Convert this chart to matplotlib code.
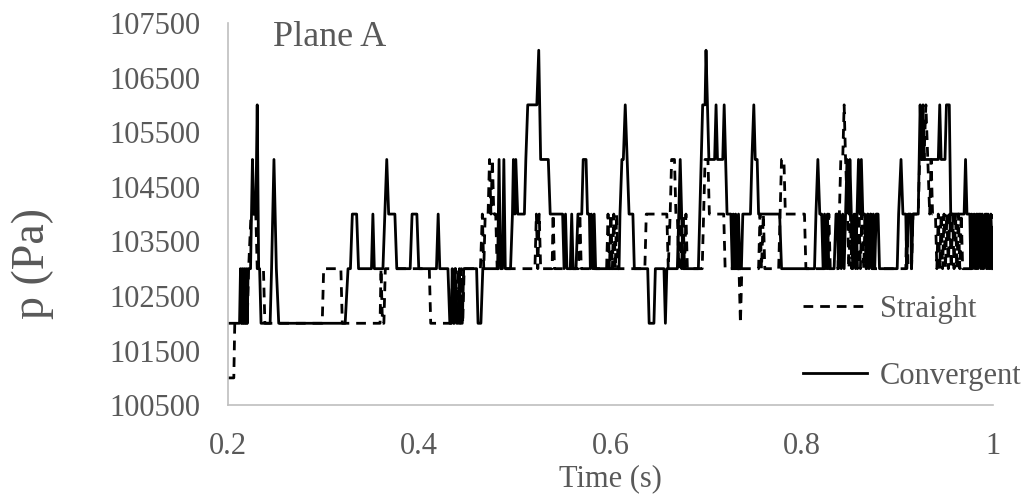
import matplotlib
matplotlib.use("Agg")
import matplotlib.pyplot as plt

# Convergent (solid) - time (s) / pressure (Pa)
conv_t = [0.200, 0.212, 0.213, 0.214, 0.215, 0.216, 0.217, 0.218, 0.219, 0.220,
          0.221, 0.2235, 0.2255, 0.2270, 0.2290, 0.2305, 0.2320, 0.2330, 0.2345, 0.2440,
          0.2455, 0.2480, 0.2505, 0.2530, 0.3225, 0.3255, 0.3280, 0.3300, 0.3345, 0.3365,
          0.3500, 0.3515, 0.3530, 0.3620, 0.3640, 0.3660, 0.3680, 0.3745, 0.3765, 0.3905,
          0.3925, 0.3975, 0.3995, 0.4180, 0.4198, 0.4215, 0.4300, 0.4320, 0.4335, 0.4345,
          0.4360, 0.4375, 0.4390, 0.4410, 0.4420, 0.4430, 0.4450, 0.4465, 0.4600, 0.4615,
          0.4645, 0.4665, 0.4820, 0.4835, 0.4850, 0.4870, 0.4885, 0.4900, 0.4955, 0.4975,
          0.4985, 0.5000, 0.5010, 0.5030, 0.5100, 0.5115, 0.5135, 0.5230, 0.5250, 0.5270,
          0.5350, 0.5370, 0.5500, 0.5515, 0.5530, 0.5545, 0.5580, 0.5595, 0.5610, 0.5640,
          0.5660, 0.5700, 0.5715, 0.5745, 0.5760, 0.5780, 0.5790, 0.5800, 0.5815, 0.5830,
          0.5845, 0.6090, 0.6100, 0.6120, 0.6135, 0.6155, 0.6175, 0.6195, 0.6235, 0.6250,
          0.6390, 0.6405, 0.6455, 0.6470, 0.6560, 0.6575, 0.6590, 0.6700, 0.6715, 0.6730,
          0.6745, 0.6760, 0.6920, 0.6935, 0.6950, 0.6965, 0.6990, 0.7000, 0.7015, 0.7030,
          0.7090, 0.7105, 0.7120, 0.7175, 0.7190, 0.7205, 0.7220, 0.7260, 0.7275, 0.7285,
          0.7300, 0.7310, 0.7325, 0.7340, 0.7355, 0.7370, 0.7385, 0.7465, 0.7480, 0.7500,
          0.7515, 0.7535, 0.7550, 0.7770, 0.7790, 0.8135, 0.8150, 0.8170, 0.8190, 0.8210,
          0.8225, 0.8240, 0.8255, 0.8270, 0.8285, 0.8340, 0.8360, 0.8375, 0.8385, 0.8400,
          0.8415, 0.8430, 0.8445, 0.8460, 0.8475, 0.8495, 0.8505, 0.8520, 0.8535, 0.8550,
          0.8565, 0.8580, 0.8595, 0.8610, 0.8625, 0.8640, 0.8660, 0.8675, 0.8690, 0.8705,
          0.8720, 0.8735, 0.8750, 0.8765, 0.8780, 0.8800, 0.8815, 0.9000, 0.9015, 0.9040,
          0.9060, 0.9090, 0.9100, 0.9115, 0.9140, 0.9150, 0.9165, 0.9220, 0.9240, 0.9255,
          0.9270, 0.9285, 0.9430, 0.9445, 0.9460, 0.9500, 0.9515, 0.9545, 0.9560, 0.9700,
          0.9715, 0.9730, 0.9760, 0.9770, 0.9780, 0.9790, 0.9805, 0.9815, 0.9830, 0.9845,
          0.9860, 0.9875, 0.9890, 0.9905, 0.9920, 0.9935, 0.9950, 0.9965, 0.9980, 1.0000]
conv_p = [102000, 102000, 103000, 102000, 103000, 102000, 103000, 102000, 103000, 102000,
          103000, 103000, 105000, 104000, 104000, 106000, 103000, 103000, 102000, 102000,
          103000, 105000, 103000, 102000, 102000, 103000, 103000, 104000, 104000, 103000,
          103000, 104000, 103000, 103000, 104000, 105000, 104000, 104000, 103000, 103000,
          104000, 104000, 103000, 103000, 104000, 103000, 103000, 102000, 102000, 103000,
          102000, 103000, 102000, 102000, 103000, 102000, 102000, 103000, 103000, 102000,
          102000, 103000, 103000, 105000, 103000, 103000, 105000, 103000, 103000, 104000,
          105000, 104000, 105000, 104000, 104000, 105000, 106000, 106000, 107000, 105000,
          105000, 104000, 104000, 103000, 104000, 103000, 103000, 104000, 103000, 103000,
          104000, 104000, 105000, 105000, 104000, 104000, 103000, 104000, 103000, 104000,
          103000, 103000, 104000, 105000, 105000, 106000, 105000, 104000, 104000, 103000,
          103000, 102000, 102000, 103000, 103000, 102000, 103000, 103000, 104000, 105000,
          104000, 103000, 103000, 104000, 105000, 106000, 106000, 107000, 106000, 105000,
          105000, 106000, 105000, 105000, 106000, 105000, 104000, 104000, 103000, 104000,
          103000, 104000, 103000, 104000, 103000, 103000, 104000, 104000, 105000, 106000,
          105000, 105000, 104000, 104000, 103000, 103000, 104000, 105000, 104000, 104000,
          103000, 104000, 103000, 104000, 103000, 103000, 104000, 104000, 103000, 104000,
          103000, 104000, 103000, 104000, 105000, 104000, 105000, 104000, 103000, 104000,
          103000, 104000, 105000, 104000, 105000, 104000, 104000, 103000, 104000, 103000,
          104000, 103000, 104000, 103000, 104000, 104000, 103000, 103000, 104000, 105000,
          104000, 104000, 103000, 104000, 104000, 103000, 104000, 104000, 106000, 105000,
          106000, 105000, 105000, 106000, 105000, 105000, 106000, 106000, 104000, 104000,
          105000, 104000, 104000, 103000, 104000, 103000, 104000, 103000, 104000, 103000,
          104000, 103000, 104000, 103000, 104000, 103000, 104000, 103000, 104000, 103000]

# Straight (dashed)
straight_t = [0.2000, 0.2060, 0.2070, 0.2200, 0.2215, 0.2240, 0.2290, 0.2305, 0.2370, 0.2385,
              0.2985, 0.3000, 0.3180, 0.3195, 0.3590, 0.3600, 0.3615, 0.3630, 0.3645, 0.4105,
              0.4120, 0.4335, 0.4350, 0.4365, 0.4380, 0.4395, 0.4410, 0.4425, 0.4440, 0.4455,
              0.4470, 0.4640, 0.4660, 0.4675, 0.4690, 0.4720, 0.4735, 0.4750, 0.4765, 0.4780,
              0.4800, 0.4815, 0.5210, 0.5225, 0.5240, 0.5255, 0.5270, 0.5390, 0.5400, 0.5415,
              0.5665, 0.5680, 0.5695, 0.5795, 0.5810, 0.5825, 0.5960, 0.5975, 0.5990, 0.6005,
              0.6020, 0.6035, 0.6050, 0.6065, 0.6080, 0.6360, 0.6375, 0.6590, 0.6605, 0.6625,
              0.6640, 0.6670, 0.6685, 0.6700, 0.6715, 0.6730, 0.6745, 0.6760, 0.6775, 0.6790,
              0.6805, 0.6960, 0.6975, 0.6990, 0.7020, 0.7035, 0.7185, 0.7200, 0.7345, 0.7360,
              0.7375, 0.7550, 0.7565, 0.7580, 0.7600, 0.7615, 0.7760, 0.7775, 0.7790, 0.7815,
              0.7830, 0.8030, 0.8045, 0.8240, 0.8255, 0.8270, 0.8285, 0.8300, 0.8380, 0.8395,
              0.8410, 0.8430, 0.8445, 0.8460, 0.8480, 0.8495, 0.8510, 0.8525, 0.8540, 0.8555,
              0.8570, 0.8585, 0.8600, 0.8615, 0.8630, 0.8650, 0.8665, 0.8680, 0.8695, 0.8710,
              0.8725, 0.8740, 0.9090, 0.9100, 0.9115, 0.9150, 0.9165, 0.9220, 0.9235, 0.9280,
              0.9300, 0.9320, 0.9340, 0.9355, 0.9370, 0.9400, 0.9415, 0.9430, 0.9445, 0.9460,
              0.9475, 0.9490, 0.9505, 0.9520, 0.9535, 0.9550, 0.9565, 0.9580, 0.9595, 0.9610,
              0.9625, 0.9640, 0.9655, 0.9670, 0.9685, 0.9800, 0.9815, 0.9830, 0.9845, 0.9860,
              0.9875, 0.9890, 0.9905, 0.9920, 0.9935, 0.9950, 0.9965, 0.9980, 1.0000]
straight_p = [101000, 101000, 102000, 102000, 103000, 104000, 104000, 103000, 103000, 102000,
              102000, 103000, 103000, 102000, 102000, 103000, 102000, 102000, 103000, 103000,
              102000, 102000, 103000, 102000, 103000, 102000, 103000, 102000, 103000, 102000,
              103000, 103000, 104000, 103000, 104000, 104000, 105000, 104000, 105000, 104000,
              104000, 103000, 103000, 104000, 103000, 104000, 103000, 103000, 104000, 103000,
              103000, 104000, 103000, 103000, 104000, 103000, 103000, 104000, 103000, 104000,
              103000, 104000, 103000, 104000, 103000, 103000, 104000, 104000, 103000, 104000,
              105000, 105000, 104000, 104000, 103000, 104000, 103000, 104000, 103000, 104000,
              103000, 103000, 104000, 105000, 105000, 104000, 104000, 103000, 103000, 102000,
              103000, 103000, 104000, 103000, 104000, 103000, 103000, 104000, 105000, 105000,
              104000, 104000, 103000, 103000, 104000, 103000, 104000, 103000, 103000, 104000,
              105000, 105000, 106000, 105000, 104000, 103000, 104000, 103000, 104000, 103000,
              104000, 103000, 104000, 103000, 104000, 103000, 104000, 103000, 104000, 103000,
              104000, 103000, 103000, 104000, 103000, 103000, 104000, 104000, 105000, 105000,
              106000, 105000, 104000, 105000, 104000, 104000, 103000, 104000, 103000, 104000,
              103000, 104000, 103000, 104000, 103000, 104000, 103000, 104000, 103000, 104000,
              103000, 104000, 103000, 104000, 103000, 103000, 104000, 103000, 104000, 103000,
              104000, 103000, 104000, 103000, 104000, 103000, 104000, 103000, 104000]

assert len(conv_t) == len(conv_p), (len(conv_t), len(conv_p))
assert len(straight_t) == len(straight_p), (len(straight_t), len(straight_p))

x_ticks = [0.2, 0.4, 0.6, 0.8, 1.0]
x_tick_labels = ["0.2", "0.4", "0.6", "0.8", "1"]
y_ticks = [100500, 101500, 102500, 103500, 104500, 105500, 106500, 107500]

grey = "#595959"
plt.rcParams["font.family"] = ["Liberation Serif", "DejaVu Serif"]

fig = plt.figure(figsize=(10.32, 4.99), dpi=100)
ax = fig.add_axes([0.221, 0.188, 0.741, 0.766])

ax.plot(straight_t, straight_p, color="black", lw=2.0, linestyle=(0, (3.5, 2.5)), label="Straight")
ax.plot(conv_t, conv_p, color="black", lw=2.0, label="Convergent")

ax.set_xlim(0.2, 1.0)
ax.set_ylim(100500, 107500)
ax.set_xticks(x_ticks)
ax.set_xticklabels(x_tick_labels)
ax.set_yticks(y_ticks)
ax.tick_params(length=0, labelsize=22, colors=grey)
ax.tick_params(axis="y", pad=20)
ax.tick_params(axis="x", pad=19)

for s in ["top", "right"]:
    ax.spines[s].set_visible(False)
for s in ["left", "bottom"]:
    ax.spines[s].set_color("#bfbfbf")
    ax.spines[s].set_linewidth(1.2)

ax.set_xlabel("Time (s)", fontsize=22, color=grey)
ax.xaxis.set_label_coords(0.5, -0.155)
ax.set_ylabel("p (Pa)", fontsize=33, color=grey, va="center")
ax.yaxis.set_label_coords(-0.255, 0.37)

ax.text(0.133, 0.963, "Plane A", transform=ax.transAxes, fontsize=26,
        color=grey, ha="center", va="center")

leg = ax.legend(loc="center left", bbox_to_anchor=(791 / 1032, 1 - 343 / 499),
                bbox_transform=fig.transFigure, frameon=False, fontsize=22,
                handlelength=2.1, handletextpad=0.4, labelspacing=1.25, borderaxespad=0)
for t in leg.get_texts():
    t.set_color(grey)

fig.savefig("out.png", dpi=100)
